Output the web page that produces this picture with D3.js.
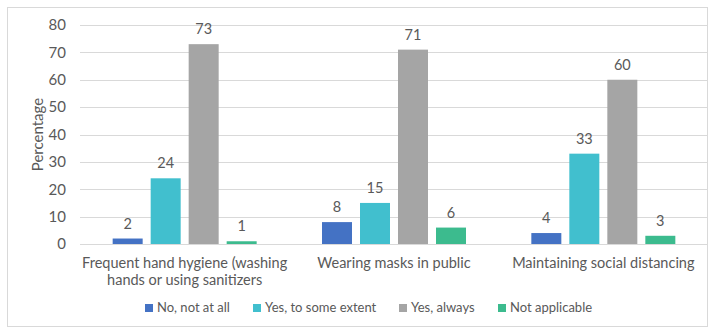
<!DOCTYPE html>
<html>
<head>
<meta charset="utf-8">
<script src="https://cdn.jsdelivr.net/npm/d3@7"></script>
<style>
  html, body { margin: 0; padding: 0; background: #fff; }
  svg text { font-family: "Lato", "Open Sans", sans-serif; fill: #595959; }
</style>
</head>
<body>
<svg id="chart" width="715" height="334"></svg>
<script>
const categories = [
  ["Frequent hand hygiene (washing", "hands or using sanitizers"],
  ["Wearing masks in public"],
  ["Maintaining social distancing"]
];
const seriesNames = ["No, not at all", "Yes, to some extent", "Yes, always", "Not applicable"];
const seriesColors = ["#4472C4", "#41BFCE", "#A5A5A5", "#3CBB8E"];
const seriesValues = [
  [2, 8, 4],
  [24, 15, 33],
  [73, 71, 60],
  [1, 6, 3]
];
const yTicks = [0, 10, 20, 30, 40, 50, 60, 70, 80];

const svg = d3.select("#chart");
const W = 715, H = 334;
const margin = { left: 80, right: 7, top: 25, bottom: 90 };

// chart frame
svg.append("rect")
  .attr("x", 7.5).attr("y", 7.5)
  .attr("width", W - 15).attr("height", H - 15)
  .attr("fill", "none").attr("stroke", "#d9d9d9").attr("stroke-width", 1);

const x0 = d3.scaleBand()
  .domain(d3.range(categories.length))
  .range([margin.left, W - margin.right]);
const y = d3.scaleLinear().domain([0, 80]).range([244, 25]);

// gridlines
svg.append("g").selectAll("line")
  .data(yTicks)
  .join("line")
  .attr("x1", margin.left).attr("x2", W - margin.right)
  .attr("y1", d => Math.round(y(d)) + 0.5).attr("y2", d => Math.round(y(d)) + 0.5)
  .attr("stroke", "#d9d9d9").attr("stroke-width", 1);

// y tick labels
const yAxis = d3.axisLeft(y).tickValues(yTicks).tickSize(0).tickPadding(0);
const gy = svg.append("g").attr("transform", "translate(66,0)").call(yAxis);
gy.select(".domain").remove();
gy.selectAll("text").attr("font-size", 15).style("font-family", "Lato, sans-serif").attr("fill", "#595959");

// y axis title
svg.append("text")
  .attr("transform", `translate(43,${(y(0) + y(80)) / 2}) rotate(-90)`)
  .attr("text-anchor", "middle")
  .attr("font-size", 15)
  .text("Percentage");

// bars
const barW = 30, gap = 8;
const x1 = d3.scaleBand()
  .domain(d3.range(seriesNames.length))
  .range([0, barW * 4 + gap * 3])
  .paddingInner(gap / (barW + gap));
const groupW = barW * 4 + gap * 3;

const groups = svg.append("g").selectAll("g")
  .data(categories.map((c, i) => i))
  .join("g")
  .attr("transform", i => `translate(${x0(i) + x0.bandwidth() / 2 - groupW / 2},0)`);

groups.selectAll("rect")
  .data(i => seriesValues.map((vals, s) => ({ s, v: vals[i] })))
  .join("rect")
  .attr("x", d => x1(d.s))
  .attr("width", x1.bandwidth())
  .attr("y", d => y(d.v))
  .attr("height", d => y(0) - y(d.v))
  .attr("fill", d => seriesColors[d.s]);

groups.selectAll("text.val")
  .data(i => seriesValues.map((vals, s) => ({ s, v: vals[i] })))
  .join("text")
  .attr("class", "val")
  .attr("x", d => x1(d.s) + x1.bandwidth() / 2)
  .attr("y", d => y(d.v) - 10)
  .attr("text-anchor", "middle")
  .attr("font-size", 14.5)
  .text(d => d.v);

// category labels
const cat = svg.append("g").selectAll("text")
  .data(categories)
  .join("text")
  .attr("x", (d, i) => x0(i) + x0.bandwidth() / 2)
  .attr("y", 268)
  .attr("text-anchor", "middle")
  .attr("font-size", 14.5);
cat.selectAll("tspan")
  .data(d => d)
  .join("tspan")
  .attr("x", function () { return d3.select(this.parentNode).attr("x"); })
  .attr("dy", (d, j) => j === 0 ? 0 : 17)
  .text(d => d);

// legend
const legendX = [145, 253, 399, 498];
const legend = svg.append("g").selectAll("g")
  .data(seriesNames)
  .join("g")
  .attr("transform", (d, i) => `translate(${legendX[i]},312)`);
legend.append("rect")
  .attr("x", 0).attr("y", -8)
  .attr("width", 8).attr("height", 8)
  .attr("fill", (d, i) => seriesColors[i]);
legend.append("text")
  .attr("x", 12).attr("y", 0)
  .attr("font-size", 13)
  .text(d => d);
</script>
</body>
</html>
